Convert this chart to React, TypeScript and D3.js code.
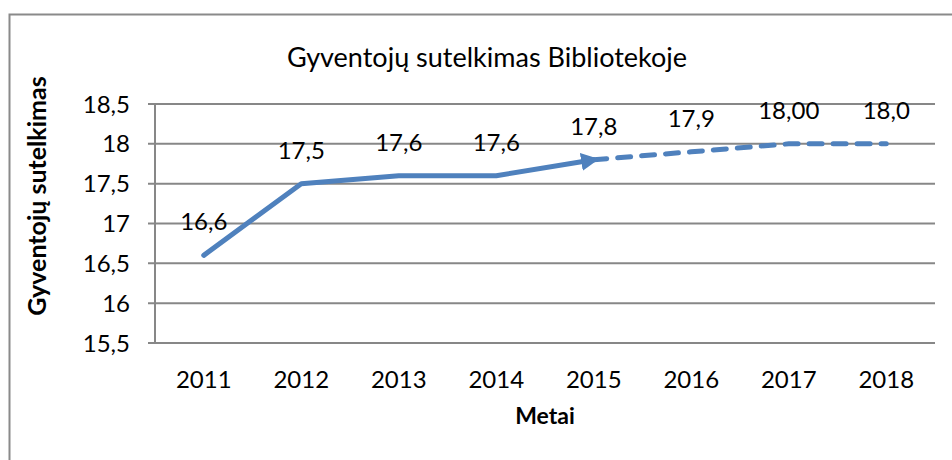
import React, { useEffect, useRef } from "react";
import * as d3 from "d3";

const years = ["2011", "2012", "2013", "2014", "2015", "2016", "2017", "2018"];
const actual = [16.6, 17.5, 17.6, 17.6, 17.8];
const forecastYears = ["2015", "2016", "2017", "2018"];
const forecast = [17.8, 17.9, 18.0, 18.0];
const pointLabels = ["16,6", "17,5", "17,6", "17,6", "17,8", "17,9", "18,00", "18,0"];
const yTicks = [15.5, 16, 16.5, 17, 17.5, 18, 18.5];

const title = "Gyventojų sutelkimas Bibliotekoje";
const yTitle = "Gyventojų sutelkimas";
const xTitle = "Metai";

const W = 952;
const H = 460;
const font = "Lato, 'Open Sans', sans-serif";
const blue = "#4F81BD";
const grey = "#878787";

export default function App() {
  const ref = useRef<SVGSVGElement>(null);

  useEffect(() => {
    const svg = d3.select(ref.current);
    svg.selectAll("*").remove();

    const margin = { top: 104, right: 17, bottom: 117, left: 155 };
    const w = W - margin.left - margin.right;
    const h = H - margin.top - margin.bottom;

    // outer chart frame (only top + left visible)
    svg.append("path")
      .attr("d", `M9.5,${H} V14.5 H${W}`)
      .attr("fill", "none")
      .attr("stroke", "#8a8a8a")
      .attr("stroke-width", 2);

    const defs = svg.append("defs");
    defs.append("marker")
      .attr("id", "arrow")
      .attr("markerUnits", "userSpaceOnUse")
      .attr("viewBox", "0 0 10 10")
      .attr("refX", 7)
      .attr("refY", 5)
      .attr("markerWidth", 18)
      .attr("markerHeight", 18)
      .attr("orient", "auto")
      .append("path")
      .attr("d", "M0,0 L10,5 L0,10 z")
      .attr("fill", blue);

    const g = svg.append("g").attr("transform", `translate(${margin.left},${margin.top})`);

    const x = d3.scaleBand().domain(years).range([0, w]);
    const y = d3.scaleLinear().domain([15.5, 18.5]).range([h, 0]);
    const cx = (d: string) => (x(d) as number) + x.bandwidth() / 2;

    // gridlines
    g.selectAll(".grid")
      .data(yTicks)
      .join("line")
      .attr("x1", -7)
      .attr("x2", w)
      .attr("y1", (d) => y(d))
      .attr("y2", (d) => y(d))
      .attr("stroke", grey)
      .attr("stroke-width", 2);

    g.append("line")
      .attr("x1", 0).attr("x2", 0)
      .attr("y1", 0).attr("y2", h)
      .attr("stroke", grey)
      .attr("stroke-width", 2);

    // y tick labels
    g.selectAll(".ytick")
      .data(yTicks)
      .join("text")
      .attr("x", -25)
      .attr("y", (d) => y(d))
      .attr("dy", "0.36em")
      .attr("text-anchor", "end")
      .attr("font-family", font)
      .attr("font-size", 24)
      .attr("fill", "#000")
      .text((d) => String(d).replace(".", ","));

    // x tick labels
    g.selectAll(".xtick")
      .data(years)
      .join("text")
      .attr("x", (d) => cx(d))
      .attr("y", h + 45)
      .attr("text-anchor", "middle")
      .attr("font-family", font)
      .attr("font-size", 24)
      .attr("fill", "#000")
      .text((d) => d);

    const line = d3.line<number>()
      .x((d, i) => cx(years[i]))
      .y((d) => y(d));

    g.append("path")
      .datum(actual)
      .attr("d", line)
      .attr("fill", "none")
      .attr("stroke", blue)
      .attr("stroke-width", 5)
      .attr("stroke-linejoin", "round")
      .attr("stroke-linecap", "round")
      .attr("marker-end", "url(#arrow)");

    const line2 = d3.line<number>()
      .x((d, i) => cx(forecastYears[i]))
      .y((d) => y(d));

    g.append("path")
      .datum(forecast)
      .attr("d", line2)
      .attr("fill", "none")
      .attr("stroke", blue)
      .attr("stroke-width", 5)
      .attr("stroke-linecap", "round")
      .attr("stroke-dasharray", "13,11");

    const allVals = actual.concat(forecast.slice(1));
    g.selectAll(".plabel")
      .data(allVals)
      .join("text")
      .attr("x", (d, i) => cx(years[i]))
      .attr("y", (d, i) => y(d) - 25)
      .attr("text-anchor", "middle")
      .attr("font-family", font)
      .attr("font-size", 24)
      .attr("fill", "#000")
      .text((d, i) => pointLabels[i]);

    svg.append("text")
      .attr("x", 487)
      .attr("y", 67)
      .attr("text-anchor", "middle")
      .attr("font-family", font)
      .attr("font-size", 27)
      .attr("fill", "#000")
      .text(title);

    svg.append("text")
      .attr("transform", `translate(46,196) rotate(-90)`)
      .attr("text-anchor", "middle")
      .attr("font-family", font)
      .attr("font-size", 25)
      .attr("font-weight", "bold")
      .attr("fill", "#000")
      .text(yTitle);

    svg.append("text")
      .attr("x", margin.left + w / 2)
      .attr("y", 424)
      .attr("text-anchor", "middle")
      .attr("font-family", font)
      .attr("font-size", 23)
      .attr("font-weight", "bold")
      .attr("fill", "#000")
      .text(xTitle);
  }, []);

  return (
    <svg
      ref={ref}
      width={W}
      height={H}
      style={{ position: "absolute", left: 0, top: 0, background: "#fff" }}
    />
  );
}
